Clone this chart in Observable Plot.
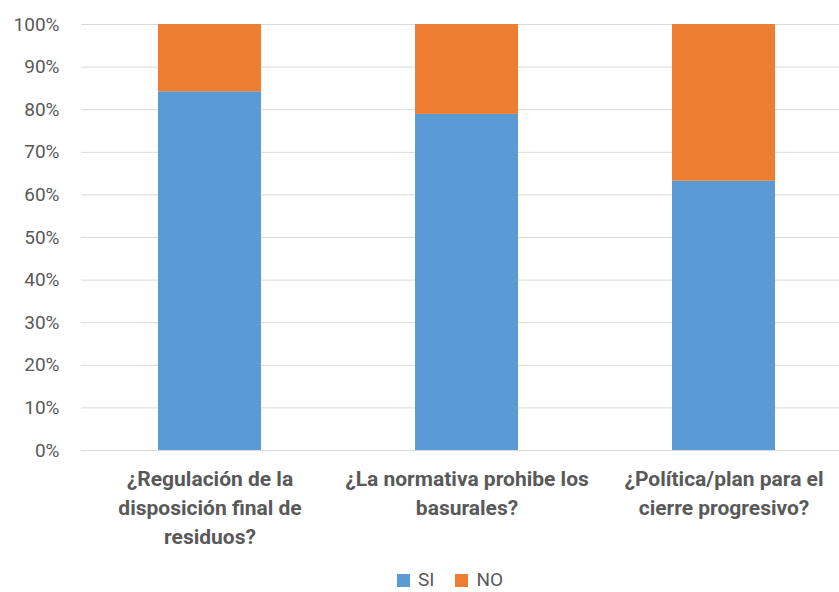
<!DOCTYPE html>
<html>
<head>
<meta charset="utf-8">
<script src="https://cdn.jsdelivr.net/npm/d3@7"></script>
<script src="https://cdn.jsdelivr.net/npm/@observablehq/plot@0.6"></script>
<style>
  html, body { margin: 0; padding: 0; background: #fff; overflow: hidden; }
  #chart { width: 839px; }
  .legend { display: flex; align-items: center; height: 22px; margin-top: 14px; padding-left: 397px;
            font-family: Roboto, sans-serif; font-size: 19px; line-height: 22px; color: #595959; }
  .legend .sw { width: 13px; height: 13px; display: inline-block; margin-right: 8px; }
  .legend .item { display: flex; align-items: center; margin-right: 21px; }
</style>
</head>
<body>
<div id="chart"></div>
<script>
// Question categories (one bar each) and their wrapped tick labels
const categories = [
  "¿Regulación de la disposición final de residuos?",
  "¿La normativa prohibe los basurales?",
  "¿Política/plan para el cierre progresivo?"
];
const tickLabels = [
  "¿Regulación de la\ndisposición final de\nresiduos?",
  "¿La normativa prohibe los\nbasurales?",
  "¿Política/plan para el\ncierre progresivo?"
];
// Share of answers per category (percent)
const siValues = [84.2, 78.9, 63.2];
const noValues = [15.8, 21.1, 36.8];
const seriesNames = ["SI", "NO"];
const seriesColors = ["#5b9bd5", "#ed7d31"];
const yTicks = [0, 10, 20, 30, 40, 50, 60, 70, 80, 90, 100];

const rows = [
  ...categories.map((c, i) => ({category: c, series: "SI", value: siValues[i]})),
  ...categories.map((c, i) => ({category: c, series: "NO", value: noValues[i]}))
];

const labelOf = new Map(categories.map((c, i) => [c, tickLabels[i]]));

const chart = Plot.plot({
  width: 839,
  height: 555,
  marginLeft: 81,
  marginRight: 0,
  marginTop: 24,
  marginBottom: 105,
  style: {fontFamily: "Roboto, sans-serif", color: "#595959", overflow: "hidden"},
  x: {domain: categories, range: [81, 852], paddingInner: 0.6, paddingOuter: 0.3, label: null},
  y: {domain: [0, 100], label: null},
  color: {domain: seriesNames, range: seriesColors},
  marks: [
    Plot.gridY(yTicks, {stroke: "#d9d9d9", strokeOpacity: 1}),
    Plot.barY(rows, {x: "category", y: "value", fill: "series", order: seriesNames}),
    Plot.ruleY([0], {stroke: "#d9d9d9", strokeWidth: 1}),
    Plot.axisY(yTicks, {tickSize: 0, tickPadding: 22, fontSize: 19, fill: "#595959",
      tickFormat: d => d + "%"}),
    Plot.axisX({tickSize: 0, tickPadding: 15, fontSize: 21, fontWeight: "bold", fill: "#595959",
      lineHeight: 1.38, tickFormat: d => labelOf.get(d)})
  ]
});
document.getElementById("chart").appendChild(chart);

// Legend below the chart
const legend = document.createElement("div");
legend.className = "legend";
seriesNames.forEach((name, i) => {
  const item = document.createElement("span");
  item.className = "item";
  const sw = document.createElement("span");
  sw.className = "sw";
  sw.style.background = seriesColors[i];
  item.appendChild(sw);
  item.appendChild(document.createTextNode(name));
  legend.appendChild(item);
});
document.body.appendChild(legend);
</script>
</body>
</html>
